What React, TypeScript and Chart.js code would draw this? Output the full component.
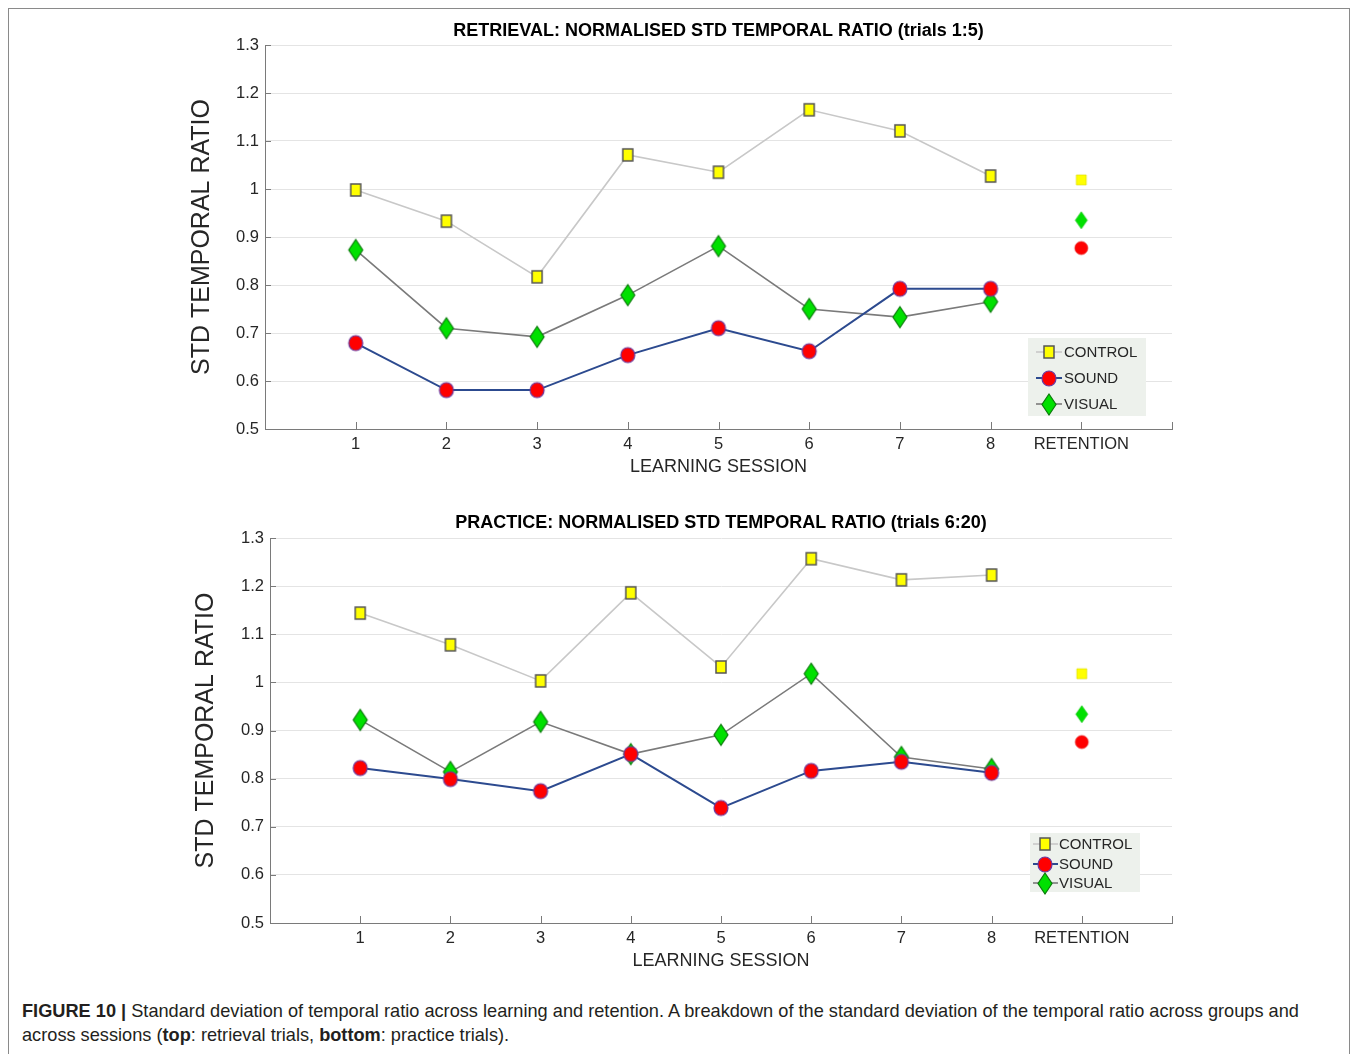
import React, { useEffect, useRef } from "react";
import { Chart, registerables } from "chart.js";

Chart.register(...registerables);

// ---------- data ----------
const sessions = [1, 2, 3, 4, 5, 6, 7, 8];
const retentionPosition = 9;
const xTickLabels = ["", "1", "2", "3", "4", "5", "6", "7", "8", "RETENTION", ""];
const yTickValues = [0.5, 0.6, 0.7, 0.8, 0.9, 1.0, 1.1, 1.2, 1.3];
const groupNames = ["CONTROL", "SOUND", "VISUAL"];

const retrievalTitle = "RETRIEVAL: NORMALISED STD TEMPORAL RATIO (trials 1:5)";
const retrievalControl = [0.998, 0.933, 0.817, 1.071, 1.035, 1.165, 1.121, 1.027];
const retrievalSound = [0.679, 0.581, 0.581, 0.654, 0.71, 0.662, 0.792, 0.792];
const retrievalVisual = [0.873, 0.71, 0.692, 0.779, 0.881, 0.75, 0.733, 0.765];
const retrievalRetention = [1.019, 0.877, 0.935]; // control, sound, visual

const practiceTitle = "PRACTICE: NORMALISED STD TEMPORAL RATIO (trials 6:20)";
const practiceControl = [1.144, 1.078, 1.003, 1.186, 1.032, 1.257, 1.213, 1.223];
const practiceSound = [0.822, 0.799, 0.774, 0.851, 0.739, 0.816, 0.835, 0.812];
const practiceVisual = [0.922, 0.814, 0.918, 0.851, 0.891, 1.018, 0.845, 0.82];
const practiceRetention = [1.018, 0.876, 0.934];

const yAxisTitle = "STD TEMPORAL RATIO";
const xAxisTitle = "LEARNING SESSION";

// ---------- styling ----------
const FONT = "'Liberation Sans', Arial, Helvetica, sans-serif";
const TEXT = "#262626";
const AXIS = "#7a7a7a";

function makeMarker(shape: string, w: number, h: number, fill: string, stroke: string | null, lw: number) {
  const pad = Math.ceil(lw) + 1;
  const c = document.createElement("canvas");
  c.width = w + pad * 2;
  c.height = h + pad * 2;
  const ctx = c.getContext("2d")!;
  const cx = c.width / 2;
  const cy = c.height / 2;
  ctx.beginPath();
  if (shape === "square") ctx.rect(cx - w / 2, cy - h / 2, w, h);
  else if (shape === "circle") ctx.ellipse(cx, cy, w / 2, h / 2, 0, 0, Math.PI * 2);
  else {
    ctx.moveTo(cx, cy - h / 2);
    ctx.lineTo(cx + w / 2, cy);
    ctx.lineTo(cx, cy + h / 2);
    ctx.lineTo(cx - w / 2, cy);
    ctx.closePath();
  }
  ctx.fillStyle = fill;
  ctx.fill();
  if (stroke && lw > 0) {
    ctx.lineWidth = lw;
    ctx.strokeStyle = stroke;
    ctx.stroke();
  }
  return c;
}

let markers: any = null;
function getMarkers() {
  if (markers) return markers;
  markers = {
    control: makeMarker("square", 10, 12, "#ffff00", "#555555", 1.5),
    sound: makeMarker("circle", 14, 15, "#ff0000", "#6a3aa0", 1.2),
    visual: makeMarker("diamond", 14, 21, "#00e000", "#0a7a0a", 1.2),
    controlRet: makeMarker("square", 10, 10, "#ffff00", "#d8d800", 0.6),
    soundRet: makeMarker("circle", 13, 13, "#ff0000", "#e00000", 0.6),
    visualRet: makeMarker("diamond", 12, 17, "#00e000", "#00c000", 0.6),
  };
  return markers;
}

const lineColors = ["#c8c8c8", "#2c4a8f", "#7a7a7a"];
const lineWidths = [1.6, 2, 1.6];

const decorPlugin = {
  id: "decor",
  afterDraw(chart: any, _args: any, opts: any) {
    const { ctx, chartArea, scales } = chart;
    ctx.save();
    ctx.strokeStyle = AXIS;
    ctx.lineWidth = 1;
    // inner y ticks
    yTickValues.forEach((v) => {
      const py = Math.round(scales.y.getPixelForValue(v)) + 0.5;
      ctx.beginPath();
      ctx.moveTo(chartArea.left, py);
      ctx.lineTo(chartArea.left + 6, py);
      ctx.stroke();
    });
    // inner x ticks
    for (let v = 1; v <= 10; v++) {
      const px = Math.round(scales.x.getPixelForValue(v)) + 0.5;
      ctx.beginPath();
      ctx.moveTo(px, chartArea.bottom);
      ctx.lineTo(px, chartArea.bottom - 7);
      ctx.stroke();
    }
    // legend
    const L = opts.legend;
    if (L) {
      ctx.fillStyle = "#edf1ec";
      ctx.fillRect(L.x, L.y, L.w, L.h);
      ctx.font = `15px ${FONT}`;
      ctx.textBaseline = "middle";
      ctx.textAlign = "left";
      const ds = chart.data.datasets.filter((d: any) => d.inLegend);
      ds.forEach((d: any, i: number) => {
        const ry = L.rows[i];
        ctx.strokeStyle = d.borderColor;
        ctx.lineWidth = d.borderWidth;
        ctx.beginPath();
        ctx.moveTo(L.lineX0, ry);
        ctx.lineTo(L.lineX1, ry);
        ctx.stroke();
        const img = d.pointStyle;
        ctx.drawImage(img, Math.round(L.markX - img.width / 2), Math.round(ry - img.height / 2));
        ctx.fillStyle = TEXT;
        ctx.fillText(d.label, L.textX, ry + 1);
      });
    }
    ctx.restore();
  },
};

function buildConfig(p: any) {
  const m = getMarkers();
  const series = [p.control, p.sound, p.visual];
  const keys = ["control", "sound", "visual"];
  const datasets: any[] = [];
  keys.forEach((k, i) => {
    datasets.push({
      label: groupNames[i],
      inLegend: true,
      data: sessions.map((s, j) => ({ x: s, y: series[i][j] })),
      borderColor: lineColors[i],
      borderWidth: lineWidths[i],
      pointStyle: m[k],
      pointRadius: 7,
      tension: 0,
      fill: false,
      order: [3, 1, 2][i],
    });
  });
  keys.forEach((k, i) => {
    datasets.push({
      label: groupNames[i] + " retention",
      inLegend: false,
      data: [{ x: retentionPosition, y: p.retention[i] }],
      showLine: false,
      pointStyle: m[k + "Ret"],
      pointRadius: 6,
      borderColor: "transparent",
      order: 0,
    });
  });
  return {
    type: "line",
    data: { datasets },
    plugins: [decorPlugin],
    options: {
      responsive: false,
      animation: false,
      events: [],
      layout: { padding: p.padding },
      plugins: {
        legend: { display: false },
        tooltip: { enabled: false },
        title: {
          display: true,
          text: p.title,
          fullSize: false,
          color: "#000",
          font: { family: FONT, size: 18, weight: "bold" },
          padding: p.titlePadding,
        },
        decor: { legend: p.legend },
      },
      scales: {
        x: {
          type: "linear",
          min: 0,
          max: 10,
          afterFit: (s: any) => {
            s.height = 48.8;
          },
          grid: { display: false, drawTicks: false },
          border: { display: true, color: AXIS, width: 1 },
          ticks: {
            stepSize: 1,
            autoSkip: false,
            maxRotation: 0,
            padding: 6,
            color: TEXT,
            font: { family: FONT, size: 16.5 },
            callback: (v: any) => xTickLabels[Math.round(v)] ?? "",
          },
          title: {
            display: true,
            text: xAxisTitle,
            color: TEXT,
            font: { family: FONT, size: 18 },
            padding: { top: 0, bottom: 0 },
          },
        },
        y: {
          type: "linear",
          min: 0.5,
          max: 1.3,
          afterFit: (s: any) => {
            s.width = p.yWidth;
          },
          grid: { display: true, drawTicks: false, color: "#e4e4e4", lineWidth: 1 },
          border: { display: true, color: AXIS, width: 1 },
          ticks: {
            stepSize: 0.1,
            padding: 6,
            color: TEXT,
            font: { family: FONT, size: 16.5 },
            callback: (v: any) => String(Math.round(v * 10) / 10),
          },
          title: {
            display: true,
            text: yAxisTitle,
            color: TEXT,
            font: { family: FONT, size: 25 },
            padding: { top: p.yTitlePad, bottom: 0 },
          },
        },
      },
    },
  };
}

function ChartPanel({ panel, top }: { panel: any; top: number }) {
  const ref = useRef<HTMLCanvasElement>(null);
  useEffect(() => {
    if (!ref.current) return;
    const chart = new Chart(ref.current, buildConfig(panel) as any);
    return () => chart.destroy();
  }, [panel]);
  return (
    <canvas
      ref={ref}
      width={1342}
      height={490}
      style={{ position: "absolute", left: 0, top, width: 1342, height: 490, display: "block" }}
    />
  );
}

const topPanel = {
  title: retrievalTitle,
  control: retrievalControl,
  sound: retrievalSound,
  visual: retrievalVisual,
  retention: retrievalRetention,
  padding: { left: 170, right: 178, top: 0, bottom: 20.2 },
  titlePadding: { top: 12.2, bottom: 3.2 },
  yWidth: 87,
  yTitlePad: 9,
  legend: { x: 1020, y: 330, w: 118, h: 78, rows: [344, 370, 396], lineX0: 1028, lineX1: 1054, markX: 1041, textX: 1056 },
};

const bottomPanel = {
  title: practiceTitle,
  control: practiceControl,
  sound: practiceSound,
  visual: practiceVisual,
  retention: practiceRetention,
  padding: { left: 170, right: 178, top: 0, bottom: 16.2 },
  titlePadding: { top: 14.2, bottom: 4.2 },
  yWidth: 92,
  yTitlePad: 13,
  legend: { x: 1022, y: 335, w: 110, h: 59, rows: [346, 366, 385], lineX0: 1025, lineX1: 1050, markX: 1037, textX: 1051 },
};

export default function App() {
  return (
    <div style={{ position: "relative", width: 1342, height: 1046, background: "#fff" }}>
      <div
        style={{
          position: "absolute",
          left: 0,
          top: 0,
          width: 1342,
          height: 1050,
          boxSizing: "border-box",
          border: "1px solid #8a8a8a",
        }}
      />
      <ChartPanel panel={topPanel} top={0} />
      <ChartPanel panel={bottomPanel} top={490} />
      <div
        style={{
          position: "absolute",
          left: 14,
          top: 991,
          width: 1320,
          fontFamily: FONT,
          fontSize: 18.2,
          lineHeight: "24px",
          color: "#231f20",
          whiteSpace: "nowrap",
        }}
      >
        <b>FIGURE 10 |</b> Standard deviation of temporal ratio across learning and retention. A breakdown of the standard
        deviation of the temporal ratio across groups and
        <br />
        across sessions (<b>top</b>: retrieval trials, <b>bottom</b>: practice trials).
      </div>
    </div>
  );
}
